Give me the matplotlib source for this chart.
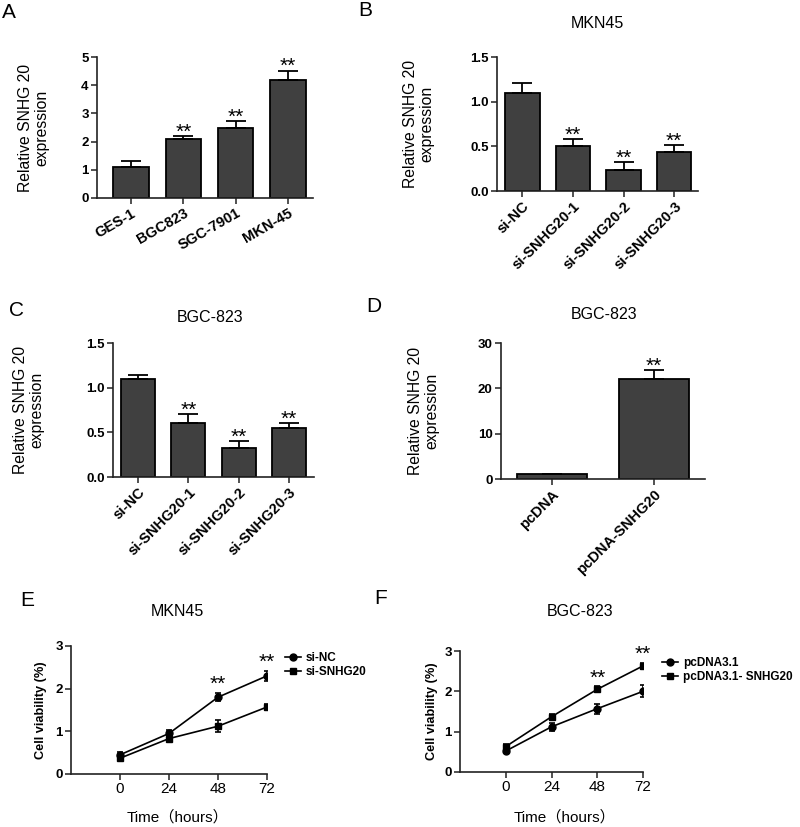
import numpy as np
import matplotlib.pyplot as plt

plt.rcParams['font.family'] = ['Liberation Sans', 'Noto Sans CJK SC', 'DejaVu Sans']

# panel A
a_labels = ['GES-1', 'BGC823', 'SGC-7901', 'MKN-45']
a_vals = [1.1, 2.1, 2.5, 4.2]
a_errs = [0.2, 0.1, 0.22, 0.32]
a_stars = ['', '**', '**', '**']

# panel B (MKN45 knockdown)
b_labels = ['si-NC', 'si-SNHG20-1', 'si-SNHG20-2', 'si-SNHG20-3']
b_vals = [1.1, 0.5, 0.23, 0.44]
b_errs = [0.11, 0.08, 0.09, 0.07]
b_stars = ['', '**', '**', '**']

# panel C (BGC-823 knockdown)
c_labels = ['si-NC', 'si-SNHG20-1', 'si-SNHG20-2', 'si-SNHG20-3']
c_vals = [1.1, 0.6, 0.33, 0.55]
c_errs = [0.04, 0.1, 0.07, 0.05]
c_stars = ['', '**', '**', '**']

# panel D (overexpression)
d_labels = ['pcDNA', 'pcDNA-SNHG20']
d_vals = [1.0, 22.0]
d_errs = [0.1, 2.0]
d_stars = ['', '**']

# panels E, F (cell viability)
hours = [0, 24, 48, 72]
e_names = ['si-NC', 'si-SNHG20']
e_nc = [0.45, 0.95, 1.8, 2.3]
e_nc_err = [0.06, 0.09, 0.1, 0.12]
e_si = [0.37, 0.83, 1.12, 1.57]
e_si_err = [0.05, 0.05, 0.14, 0.08]
e_stars = ['', '', '**', '**']

f_names = ['pcDNA3.1', 'pcDNA3.1- SNHG20']
f_pc = [0.52, 1.12, 1.57, 2.0]
f_pc_err = [0.05, 0.1, 0.12, 0.15]
f_sn = [0.63, 1.37, 2.05, 2.63]
f_sn_err = [0.06, 0.08, 0.07, 0.08]
f_stars = ['', '', '**', '**']

W, H = 800, 827
fig = plt.figure(figsize=(W / 100, H / 100), dpi=100)


def px_axes(x0, x1, y0, y1):
    return fig.add_axes([x0 / W, 1 - y1 / H, (x1 - x0) / W, (y1 - y0) / H])


def fig_text(x, y, s, **kw):
    fig.text(x / W, 1 - y / H, s, ha='center', va='center', **kw)


def style(ax):
    for side in ['top', 'right']:
        ax.spines[side].set_visible(False)
    for side in ['left', 'bottom']:
        ax.spines[side].set_linewidth(1.2)
        ax.spines[side].set_color('#222222')
    ax.tick_params(direction='out', length=4, width=1.1, color='#222222', pad=2)


def bar_panel(ax, labels, vals, errs, stars, xlim, ylim, yticks, fmt, rot, lab_x):
    style(ax)
    x = np.arange(len(vals))
    ax.bar(x, vals, 0.68, color='#404040', edgecolor='black', linewidth=1.3, zorder=2)
    ax.errorbar(x, vals, yerr=[np.zeros(len(errs)), errs], fmt='none', ecolor='black',
                elinewidth=1.3, capsize=7, capthick=1.3, zorder=3)
    for xi, v, e, s in zip(x, vals, errs, stars):
        if s:
            ax.annotate(s, (xi, v + e), xytext=(0, -1), textcoords='offset points',
                        ha='center', va='baseline', fontsize=15)
    ax.set_xlim(*xlim)
    ax.set_ylim(*ylim)
    ax.set_yticks(yticks)
    ax.set_yticklabels([fmt.format(t) for t in yticks], fontweight='bold', fontsize=9.5)
    ax.set_xticks(x)
    ax.set_xticklabels(labels, rotation=rot, ha='right', rotation_mode='anchor',
                       fontweight='bold', fontsize=10.5)
    ax.set_ylabel('Relative SNHG 20\nexpression', fontsize=11.3, linespacing=1.15)
    ax.yaxis.set_label_coords(lab_x, 0.5)


def line_panel(ax, names, s1, e1, m1, s2, e2, m2, stars, leg_fs, leg_x):
    style(ax)
    ax.plot(hours, s1, color='black', marker=m1, ms=5, lw=1.2, label=names[0])
    ax.plot(hours, s2, color='black', marker=m2, ms=5, lw=1.2, label=names[1])
    ax.errorbar(hours, s1, yerr=e1, fmt='none', ecolor='black', elinewidth=1.2,
                capsize=2.5, capthick=1.2)
    ax.errorbar(hours, s2, yerr=e2, fmt='none', ecolor='black', elinewidth=1.2,
                capsize=2.5, capthick=1.2)
    for h, a, ea, b, eb, s in zip(hours, s1, e1, s2, e2, stars):
        if s:
            ax.annotate(s, (h, max(a + ea, b + eb)), xytext=(0, 2), textcoords='offset points',
                        ha='center', va='baseline', fontsize=15)
    ax.set_xlim(-24, 72)
    ax.set_ylim(0, 3)
    ax.set_xticks(hours)
    ax.set_xticklabels([str(h) for h in hours], fontsize=11)
    ax.set_yticks([0, 1, 2, 3])
    ax.set_yticklabels(['0', '1', '2', '3'], fontweight='bold', fontsize=9.5)
    ax.set_ylabel('Cell viability (%)', fontsize=9.2, fontweight='bold')
    ax.yaxis.set_label_coords(-0.12, 0.5)
    ax.legend(loc='upper left', bbox_to_anchor=(leg_x, 0.99), frameon=False,
              handlelength=1.4, handletextpad=0.4, labelspacing=0.2, borderaxespad=0,
              prop={'weight': 'bold', 'size': leg_fs})


axA = px_axes(97, 313, 57, 198)
bar_panel(axA, a_labels, a_vals, a_errs, a_stars, (-0.65, 3.48), (0, 5),
          [0, 1, 2, 3, 4, 5], '{:g}', 30, -0.22)

axB = px_axes(497, 698, 57, 191)
bar_panel(axB, b_labels, b_vals, b_errs, b_stars, (-0.5, 3.47), (0, 1.5),
          [0, 0.5, 1.0, 1.5], '{:.1f}', 45, -0.31)

axC = px_axes(113, 314, 343, 477)
bar_panel(axC, c_labels, c_vals, c_errs, c_stars, (-0.5, 3.5), (0, 1.5),
          [0, 0.5, 1.0, 1.5], '{:.1f}', 45, -0.34)

axD = px_axes(501, 705, 343, 479)
bar_panel(axD, d_labels, d_vals, d_errs, d_stars, (-0.5, 1.5), (0, 30),
          [0, 10, 20, 30], '{:g}', 45, -0.30)

axE = px_axes(71, 267, 646, 774)
line_panel(axE, e_names, e_nc, e_nc_err, 'o', e_si, e_si_err, 's', e_stars, 8.5, 1.066)

axF = px_axes(460, 643, 651, 772)
line_panel(axF, f_names, f_pc, f_pc_err, 'o', f_sn, f_sn_err, 's', f_stars, 8.5, 1.077)

# titles
fig_text(597, 23, 'MKN45', fontsize=11.5)
fig_text(210, 318, 'BGC-823', fontsize=11.5)
fig_text(604, 315, 'BGC-823', fontsize=11.5)
fig_text(177, 612, 'MKN45', fontsize=11.5)
fig_text(580, 612, 'BGC-823', fontsize=11.5)

# x axis titles of the viability panels
fig_text(178, 817, 'Time（hours）', fontsize=11)
fig_text(565, 817, 'Time（hours）', fontsize=11)

# panel letters
for x, y, s in [(9, 13, 'A'), (365, 10, 'B'), (17, 311, 'C'),
                (374, 306, 'D'), (27, 601, 'E'), (381, 599, 'F')]:
    fig_text(x, y, s, fontsize=15)

fig.savefig('out.png', dpi=100)
